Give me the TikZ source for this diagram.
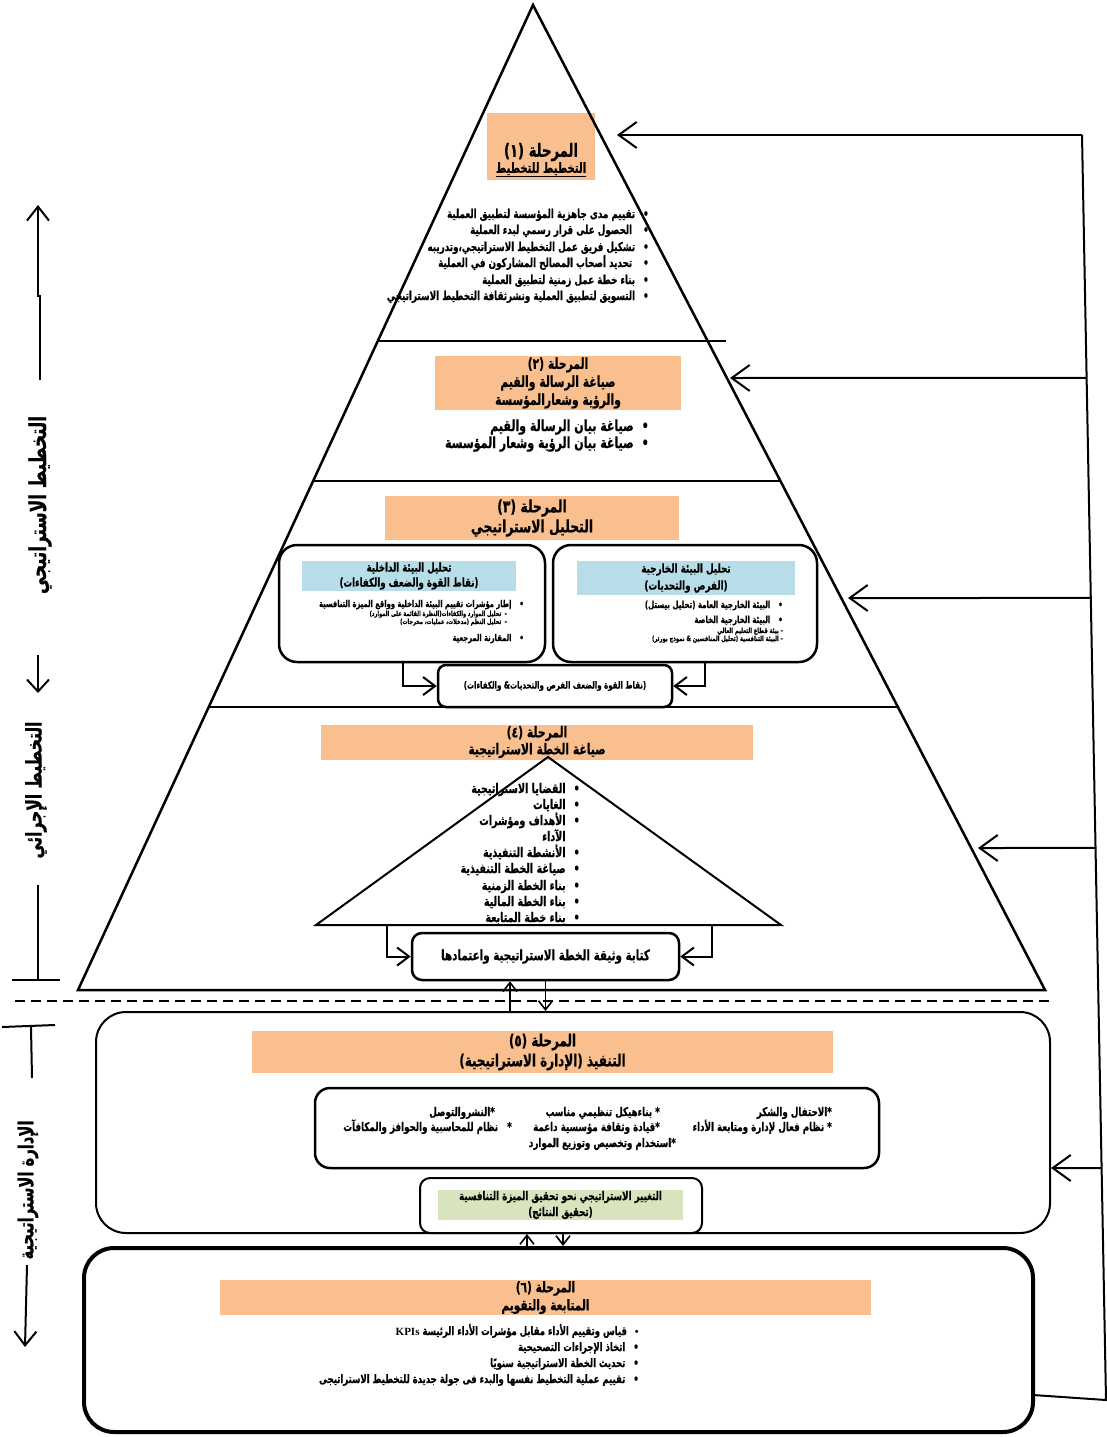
\documentclass[tikz,border=0pt]{standalone}
\usepackage{fontspec}
\newfontfamily\arabicfont[Script=Arabic,FakeStretch=0.72,BoldFeatures={FakeBold=0.6}]{DejaVu Sans}
\TeXXeTstate=1
\usetikzlibrary{arrows.meta,calc}
\definecolor{stageorange}{HTML}{F9BF8F}
\definecolor{envblue}{HTML}{B7DEE8}
\definecolor{resgreen}{HTML}{D7E4BD}
\newcommand{\arl}[1]{\beginR #1\endR}
\newcommand{\fs}[2]{\fontsize{#1}{#2}\selectfont}
\newcommand{\bl}{\hspace{8pt}•}
\begin{document}
\begin{tikzpicture}[x=1pt,y=-1pt,
  hdr/.style={fill=stageorange, inner sep=0pt, align=center},
  li/.style={anchor=base east, inner sep=0pt, font=\arabicfont\bfseries\fs{#1}{#1}},
  li/.default=10.5,
  rbox/.style={draw, line width=2.5pt, rounded corners=18pt},
  bigarrow/.style={line width=2pt, -{Straight Barb[length=18pt,width=26pt]}},
  midarrow/.style={line width=2pt, -{Straight Barb[length=12pt,width=18pt]}},
  smallarrow/.style={line width=1.6pt, -{Straight Barb[length=9pt,width=14pt]}},
  sidelabel/.style={rotate=90, inner sep=0pt, font=\arabicfont\bfseries\fs{#1}{#1}},
  thin/.style={line width=2pt}
]
\useasboundingbox (0,0) rectangle (1107,1437);

% ---------- header fills ----------
\node[hdr, minimum width=108pt, minimum height=67pt] (h1) at (541,146.5) {};
\node[inner sep=0pt, align=center, font=\arabicfont\bfseries] (h1t) at (541,160)
  {\fs{18.3}{20}\arl{المرحلة (١)}\\\fs{13.9}{20}\underline{\arl{التخطيط للتخطيط}}};

\node[hdr, minimum width=246pt, minimum height=54pt, font=\arabicfont\bfseries\fs{15}{18}] (h2) at (558,383)
  {\arl{المرحلة (٢)}\\\arl{صياغة الرسالة والقيم}\\\arl{والرؤية وشعارالمؤسسة}};

\node[hdr, minimum width=294pt, minimum height=44pt, font=\arabicfont\bfseries\fs{17.2}{20}] (h3) at (532,518)
  {\arl{المرحلة (٣)}\\\arl{التحليل الاستراتيجي}};

\node[hdr, minimum width=432pt, minimum height=35pt, font=\arabicfont\bfseries\fs{15}{17}] (h4) at (537,742)
  {\arl{المرحلة (٤)}\\\arl{صياغة الخطة الاستراتيجية}};

% ---------- main triangle ----------
\draw[line width=2.5pt, line join=miter] (533,5) -- (1045,990) -- (78,990) -- cycle;
\draw[line width=2.5pt] (378,341) -- (726,341);
\draw[line width=2.5pt] (313,481) -- (781,481);
\draw[line width=2.5pt] (209,707) -- (897,707);

% ---------- stage 1 list ----------
\node[li=12.2] (s1a) at (649,218) {\arl{تقييم مدى جاهزية المؤسسة لتطبيق العملية}\bl};
\node[li=12.2] (s1b) at (649,234) {\arl{الحصول على قرار رسمي لبدء العملية}\hspace{3pt}\bl};
\node[li=12.2] (s1c) at (649,251) {\arl{تشكيل فريق عمل التخطيط الاستراتيجي،وتدريبه}\bl};
\node[li=12.2] (s1d) at (649,267) {\arl{تحديد أصحاب المصالح المشاركون في العملية}\hspace{3pt}\bl};
\node[li=12.2] (s1e) at (649,284) {\arl{بناء خطة عمل  زمنية لتطبيق العملية}\bl};
\node[li=12.2] (s1f) at (649,300) {\arl{التسويق لتطبيق العملية ونشرثقافة التخطيط الاستراتيجي}\bl};

% ---------- stage 2 list ----------
\node[li=15.3] (s2a) at (649,431) {\arl{صياغة بيان الرسالة والقيم}\bl};
\node[li=15.3] (s2b) at (649,448) {\arl{صياغة بيان الرؤية وشعار المؤسسة}\bl};

% ---------- stage 3 boxes ----------
\node[rbox, minimum width=266pt, minimum height=117pt] (intbox) at (412,603.5) {};
\node[rbox, minimum width=264pt, minimum height=117pt] (extbox) at (685,603.5) {};
\node[fill=envblue, minimum width=214pt, minimum height=30pt, inner sep=0pt, align=center,
  font=\arabicfont\bfseries\fs{12}{15}] (inthdr) at (409,576)
  {\arl{تحليل البيئة الداخلية}\\\arl{(نقاط القوة والضعف والكفاءات)}};
\node[fill=envblue, minimum width=218pt, minimum height=34pt, inner sep=0pt, align=center,
  font=\arabicfont\bfseries\fs{12.2}{17}] (exthdr) at (686,578)
  {\arl{تحليل البيئة الخارجية}\\\arl{(الفرص والتحديات)}};

\node[li=9.4] (ia) at (524,607) {\arl{إطار مؤشرات تقييم البيئة الداخلية وواقع الميزة التنافسية}\bl};
\node[li=7] (ib) at (507,616) {\arl{-\ \ تحليل الموارد والكفاءات(النظرة القائمة على الموارد)}};
\node[li=7] (ic) at (507,624) {\arl{-\ \ تحليل النظم (مدخلات، عمليات، مخرجات)}};
\node[li=9.4] (id) at (524,641) {\arl{المقارنة المرجعية}\bl};

\node[li=9.8] (ea) at (783,608) {\arl{البيئة الخارجية العامة (تحليل بيستل)}\bl};
\node[li=9.8] (eb) at (783,623) {\arl{البيئة الخارجية  الخاصة}\bl};
\node[li=7.2] (ec) at (783,633) {\arl{-\ بيئة قطاع التعليم العالي}};
\node[li=7.2] (ed) at (783,641) {\arl{-\ البيئة  التنافسية (تحليل المنافسين \& نموذج بورتر)}};

\node[draw, line width=2.5pt, rounded corners=8pt, minimum width=234pt, minimum height=42pt,
  inner sep=0pt, font=\arabicfont\bfseries\fs{9.8}{11}] (swot) at (555,686)
  {\arl{(نقاط القوة والضعف الفرص والتحديات\& والكفاءات)}};
\draw[midarrow] ([xshift=-9pt]intbox.south) |- (swot.west);
\draw[midarrow] ([xshift=20pt]extbox.south) |- (swot.east);

% ---------- stage 4 ----------
\coordinate (t4apex) at (548,757);
\coordinate (t4l) at (316,925);
\coordinate (t4r) at (781,925);
\draw[line width=2pt, line join=miter] (t4apex) -- (t4r) -- (t4l) -- cycle;

\node[li=13.3] (f1) at (580,793) {\arl{القضايا الاستراتيجية}\bl};
\node[li=13.3] (f2) at (580,809) {\arl{الغايات}\bl};
\node[li=13.3] (f3) at (580,825) {\arl{الأهداف ومؤشرات}\bl};
\node[li=13.3] (f3b) at (580,841) {\arl{الآداء}\hspace{8pt}\phantom{•}};
\node[li=13.3] (f4) at (580,857) {\arl{الأنشطة التنفيذية}\bl};
\node[li=13.3] (f5) at (580,873) {\arl{صياغة الخطة التنفيذية}\bl};
\node[li=13.3] (f6) at (580,890) {\arl{بناء الخطة الزمنية}\bl};
\node[li=13.3] (f7) at (580,906) {\arl{بناء الخطة المالية}\bl};
\node[li=13.3] (f8) at (580,922) {\arl{بناء خطة المتابعة}\bl};

\node[draw, line width=2.5pt, rounded corners=10pt, minimum width=267pt, minimum height=47pt,
  inner sep=0pt, font=\arabicfont\bfseries\fs{14.4}{15}] (doc) at (545.5,956.5)
  {\arl{كتابة وثيقة الخطة الاستراتيجية واعتمادها}};
\coordinate (t4la) at (387,925);
\coordinate (t4ra) at (712,925);
\draw[midarrow] (t4la) |- (doc.west);
\draw[midarrow] (t4ra) |- (doc.east);

% ---------- divider ----------
\draw[line width=2pt, dash pattern=on 10pt off 6pt] (15,1001) -- (1050,1001);

% ---------- stage 5 ----------
\node[draw, line width=2pt, rounded corners=30pt, minimum width=954pt, minimum height=221pt] (s5) at (573,1122.5) {};
\node[hdr, minimum width=581pt, minimum height=42pt, font=\arabicfont\bfseries\fs{16.6}{20}] (h5) at (542.5,1052)
  {\arl{المرحلة (٥)}\\\arl{التنفيذ (الإدارة الاستراتيجية)}};
\node[draw, line width=2.5pt, rounded corners=15pt, minimum width=564pt, minimum height=80pt] (impl) at (597,1128) {};
\node[li=12.1] (c1) at (832,1116) {\arl{*الاحتفال والشكر}};
\node[li=12.1] (c2) at (832,1131) {\arl{* نظام فعال لإدارة ومتابعة الأداء}};
\node[li=12.1] (c3) at (660,1116) {\arl{* بناءهيكل تنظيمي مناسب}};
\node[li=12.1] (c4) at (660,1131) {\arl{*قيادة وثقافة مؤسسية داعمة}};
\node[li=12.1] (c5) at (676,1147) {\arl{*استخدام وتخصيص وتوزيع الموارد}};
\node[li=12.1] (c6) at (495,1116) {\arl{*النشروالتوصل}};
\node[li=12.1] (c7) at (512,1131) {\arl{*\ \ \ نظام للمحاسبية والحوافز والمكافآت}};

\node[draw, line width=2pt, rounded corners=10pt, minimum width=282pt, minimum height=55pt] (resbox) at (561,1205.5) {};
\node[fill=resgreen, minimum width=245pt, minimum height=30pt, inner sep=0pt, align=center,
  font=\arabicfont\bfseries\fs{12.1}{16}] (res) at (560.5,1205)
  {\arl{التغيير الاستراتيجي نحو تحقيق الميزة التنافسية}\\\arl{(تحقيق النتائج)}};

% arrows doc <-> stage 5
\coordinate (u1) at ([xshift=-35.5pt]doc.south);
\coordinate (d1) at ([xshift=0pt]doc.south);
\draw[smallarrow] (u1 |- s5.north) -- (u1);
\draw[smallarrow] (d1) -- (d1 |- s5.north);

% ---------- stage 6 ----------
\node[draw, line width=4pt, rounded corners=30pt, minimum width=949pt, minimum height=184pt] (s6) at (558.5,1340) {};
\node[hdr, minimum width=651pt, minimum height=35pt, font=\arabicfont\bfseries\fs{14.7}{18}] (h6) at (545.5,1297.5)
  {\arl{المرحلة (٦)}\\\arl{المتابعة  والتقويم}};
\node[li=11.8] (g1) at (639,1335) {\arl{قياس وتقييم الأداء مقابل مؤشرات الأداء الرئيسة \beginL\fontspec{Liberation Serif}\bfseries\fs{11}{11}KPIs\endL}\bl};
\node[li=11.8] (g2) at (639,1351) {\arl{اتخاذ الإجراءات التصحيحية}\bl};
\node[li=11.8] (g3) at (639,1367) {\arl{تحديث الخطة الاستراتيجية سنويًا}\bl};
\node[li=11.8] (g4) at (639,1383) {\arl{تقييم عملية التخطيط نفسها والبدء فى جولة جديدة للتخطيط الاستراتيجى}\bl};

\coordinate (u2) at ([xshift=-46pt]s5.south);
\coordinate (d2) at ([xshift=-10pt]s5.south);
\draw[smallarrow] (u2 |- s6.north) -- (u2);
\draw[smallarrow] (d2) -- (d2 |- s6.north);

% ---------- feedback loop (right) ----------
\coordinate (fbin) at (1033,1395);
\coordinate (fbbot) at (1106,1400);
\coordinate (fbtop) at (1082,135);
\coordinate (tg1) at (617,135);
\coordinate (tg2) at (730,378);
\coordinate (tg3) at (848,598);
\coordinate (tg4) at (978,848);
\coordinate (tg5) at (s5.east |- 0,1168);
\draw[thin] (fbin) -- (fbbot) -- (fbtop);
\draw[bigarrow] (fbtop) -- (tg1);
\draw[bigarrow] ($(fbtop)!0.192!(fbbot)$) -- (tg2);
\draw[bigarrow] ($(fbtop)!0.366!(fbbot)$) -- (tg3);
\draw[bigarrow] ($(fbtop)!0.5636!(fbbot)$) -- (tg4);
\draw[bigarrow] ($(fbtop)!0.8166!(fbbot)$) -- (tg5);

% ---------- left side labels ----------
\draw[line width=2pt, -{Straight Barb[length=14pt,width=22pt]}] (40,380) -- (40,296) -- (38,296) -- (38,205);
\node[sidelabel=23.3] (lab1) at (40,505) {\arl{التخطيط  الاستراتيجي}};
\draw[line width=2pt, -{Straight Barb[length=12pt,width=22pt]}] (38,655) -- (38,693);
\node[sidelabel=21.6] (lab2) at (36,790) {\arl{التخطيط الإجرائي}};
\draw[thin] (38,885) -- (38,980);
\draw[thin] (12,980) -- (60,980);
\draw[thin] (2,1027) -- (55,1025);
\draw[thin] (31,1027) -- (32,1078);
\node[sidelabel=20.5] (lab3) at (28,1190) {\arl{الإدارة الاستراتيجية}};
\draw[line width=2pt, -{Straight Barb[length=14pt,width=22pt]}] (27,1265) -- (25,1347);
\end{tikzpicture}
\end{document}
